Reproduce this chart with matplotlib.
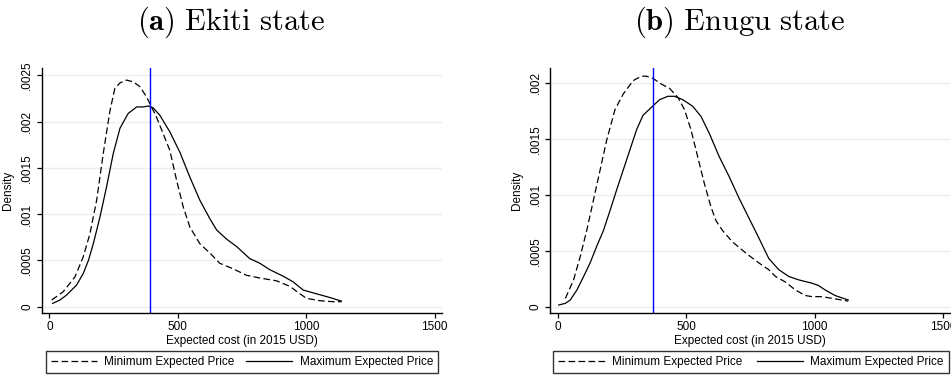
import matplotlib
matplotlib.use("Agg")
import matplotlib.pyplot as plt
from matplotlib.lines import Line2D

plt.rcParams['font.family'] = ['Liberation Sans', 'DejaVu Sans']
plt.rcParams['mathtext.fontset'] = 'cm'
plt.rcParams['lines.scale_dashes'] = False

# Ekiti state kernel densities
ekiti_min_x = [9, 54, 100, 132, 158, 184, 210, 236, 255, 275, 301, 327, 352, 378, 394,
               417, 443, 469, 495, 521, 547, 586, 625, 663, 715, 767, 819, 884, 936,
               975, 1001, 1052, 1104, 1137]
ekiti_min_y = [0.000072, 0.000162, 0.000324, 0.00054, 0.00079, 0.00115, 0.00166, 0.00212,
               0.00236, 0.00242, 0.00245, 0.00243, 0.00238, 0.00227, 0.00218, 0.00205,
               0.00187, 0.00169, 0.00137, 0.00108, 0.00086, 0.00068, 0.00058, 0.00047,
               0.00041, 0.00034, 0.00031, 0.00028, 0.00022, 0.00014, 0.00009, 0.000065,
               0.000054, 0.000054]
ekiti_max_x = [13, 41, 67, 106, 132, 152, 171, 197, 223, 249, 275, 307, 340, 366, 385,
               404, 430, 469, 508, 547, 586, 625, 651, 690, 729, 780, 819, 858, 910,
               948, 988, 1039, 1091, 1137]
ekiti_max_y = [0.000036, 0.000072, 0.000126, 0.000234, 0.00036, 0.0005, 0.00068, 0.00097,
               0.0013, 0.00166, 0.00193, 0.00209, 0.00216, 0.00216, 0.00217, 0.00215,
               0.00207, 0.00189, 0.00167, 0.0014, 0.00115, 0.00095, 0.00083, 0.00073,
               0.00065, 0.00052, 0.00047, 0.0004, 0.00033, 0.00027, 0.00018, 0.00014,
               0.0001, 0.00006]
ekiti_median = 393

# Enugu state kernel densities
enugu_min_x = [30, 62, 88, 113, 139, 165, 191, 223, 255, 294, 326, 345, 371, 403, 436,
               468, 494, 519, 545, 571, 597, 616, 642, 680, 732, 784, 822, 848, 887,
               925, 964, 990, 1028, 1080, 1131]
enugu_min_y = [0.000074, 0.00024, 0.00045, 0.00068, 0.00095, 0.00122, 0.00149, 0.00176,
               0.0019, 0.00202, 0.00206, 0.00206, 0.00204, 0.00199, 0.00195, 0.00187,
               0.00176, 0.00158, 0.00134, 0.0011, 0.00089, 0.00077, 0.00068, 0.00058,
               0.00048, 0.00039, 0.00033, 0.00027, 0.00022, 0.00015, 0.0001, 0.00009,
               0.00009, 0.00007, 0.00005]
enugu_max_x = [4, 30, 49, 75, 101, 126, 152, 178, 204, 229, 255, 281, 307, 332, 369, 397,
               429, 455, 487, 526, 558, 590, 629, 668, 706, 745, 784, 822, 861, 900,
               938, 990, 1015, 1041, 1080, 1131]
enugu_max_y = [0.000015, 0.00003, 0.00006, 0.00015, 0.00027, 0.00039, 0.00054, 0.00068,
               0.00086, 0.00104, 0.00122, 0.0014, 0.00158, 0.00171, 0.00179, 0.00185,
               0.00188, 0.00188, 0.00185, 0.00179, 0.0017, 0.00155, 0.00134, 0.00116,
               0.00097, 0.00079, 0.00061, 0.00043, 0.00033, 0.00027, 0.00024, 0.00021,
               0.00019, 0.00015, 0.0001, 0.00006]
enugu_median = 371

x_ticks = [0, 500, 1000, 1500]
ekiti_y_ticks = [0, 0.0005, 0.001, 0.0015, 0.002, 0.0025]
ekiti_y_labels = ['0', '.0005', '.001', '.0015', '.002', '.0025']
enugu_y_ticks = [0, 0.0005, 0.001, 0.0015, 0.002]
enugu_y_labels = ['0', '.0005', '.001', '.0015', '.002']

GRID = '#e8eff1'
DASH = (4.8, 2.4)

fig = plt.figure(figsize=(9.51, 3.76), dpi=100)
ax1 = fig.add_axes([0.0438, 0.1676, 0.4206, 0.6504])
ax2 = fig.add_axes([0.5783, 0.1676, 0.4206, 0.6504])


def draw_panel(ax, xmin, ymin, xmax, ymax, median, yticks, ylabels, ylim, leg_x0, leg_w):
    ax.plot(xmin, ymin, color='black', lw=0.9, dashes=DASH)
    ax.plot(xmax, ymax, color='black', lw=0.9)
    ax.axvline(median, color='#0000ff', lw=1.0)
    ax.set_xlim(-30, 1527)
    ax.set_ylim(*ylim)
    ax.set_xticks(x_ticks)
    ax.set_yticks(yticks)
    ax.set_yticklabels(ylabels, rotation=90, va='center')
    for t in yticks:
        ax.axhline(t, color=GRID, lw=1.0, zorder=0)
    for s in ['top', 'right']:
        ax.spines[s].set_visible(False)
    for s in ['left', 'bottom']:
        ax.spines[s].set_linewidth(1.0)
    ax.tick_params(axis='both', direction='out', length=3.5, width=0.9,
                   labelsize=8.5, pad=2.5)
    ax.set_xlabel('Expected cost (in 2015 USD)', fontsize=8.5, labelpad=1)
    ax.set_ylabel('Density', fontsize=8.5)
    ax.yaxis.set_label_coords(-0.068, 0.5)
    handles = [Line2D([], [], color='black', lw=0.9, dashes=DASH),
               Line2D([], [], color='black', lw=0.9)]
    leg = ax.legend(handles, ['Minimum Expected Price', 'Maximum Expected Price'],
                    ncol=2, mode='expand', loc='lower left',
                    bbox_to_anchor=(leg_x0, -0.2464, leg_w, 0.0883),
                    borderaxespad=0, fontsize=8.5, handlelength=3.9,
                    handletextpad=0.6, frameon=True, fancybox=False,
                    borderpad=0.45, columnspacing=1.0)
    leg.get_frame().set_edgecolor('black')
    leg.get_frame().set_linewidth(1.0)


draw_panel(ax1, ekiti_min_x, ekiti_min_y, ekiti_max_x, ekiti_max_y, ekiti_median,
           ekiti_y_ticks, ekiti_y_labels, (-0.000068, 0.002576), 0.01, 0.9815)
draw_panel(ax2, enugu_min_x, enugu_min_y, enugu_max_x, enugu_max_y, enugu_median,
           enugu_y_ticks, enugu_y_labels, (-0.000056, 0.002129), 0.008, 0.99)

fig.text(230.5 / 951, 0.94, r'$\mathbf{(a)}\ \mathrm{Ekiti\ state}$',
         ha='center', va='center', fontsize=22)
fig.text(739.7 / 951, 0.94, r'$\mathbf{(b)}\ \mathrm{Enugu\ state}$',
         ha='center', va='center', fontsize=22)

fig.savefig('out.png', dpi=100)
